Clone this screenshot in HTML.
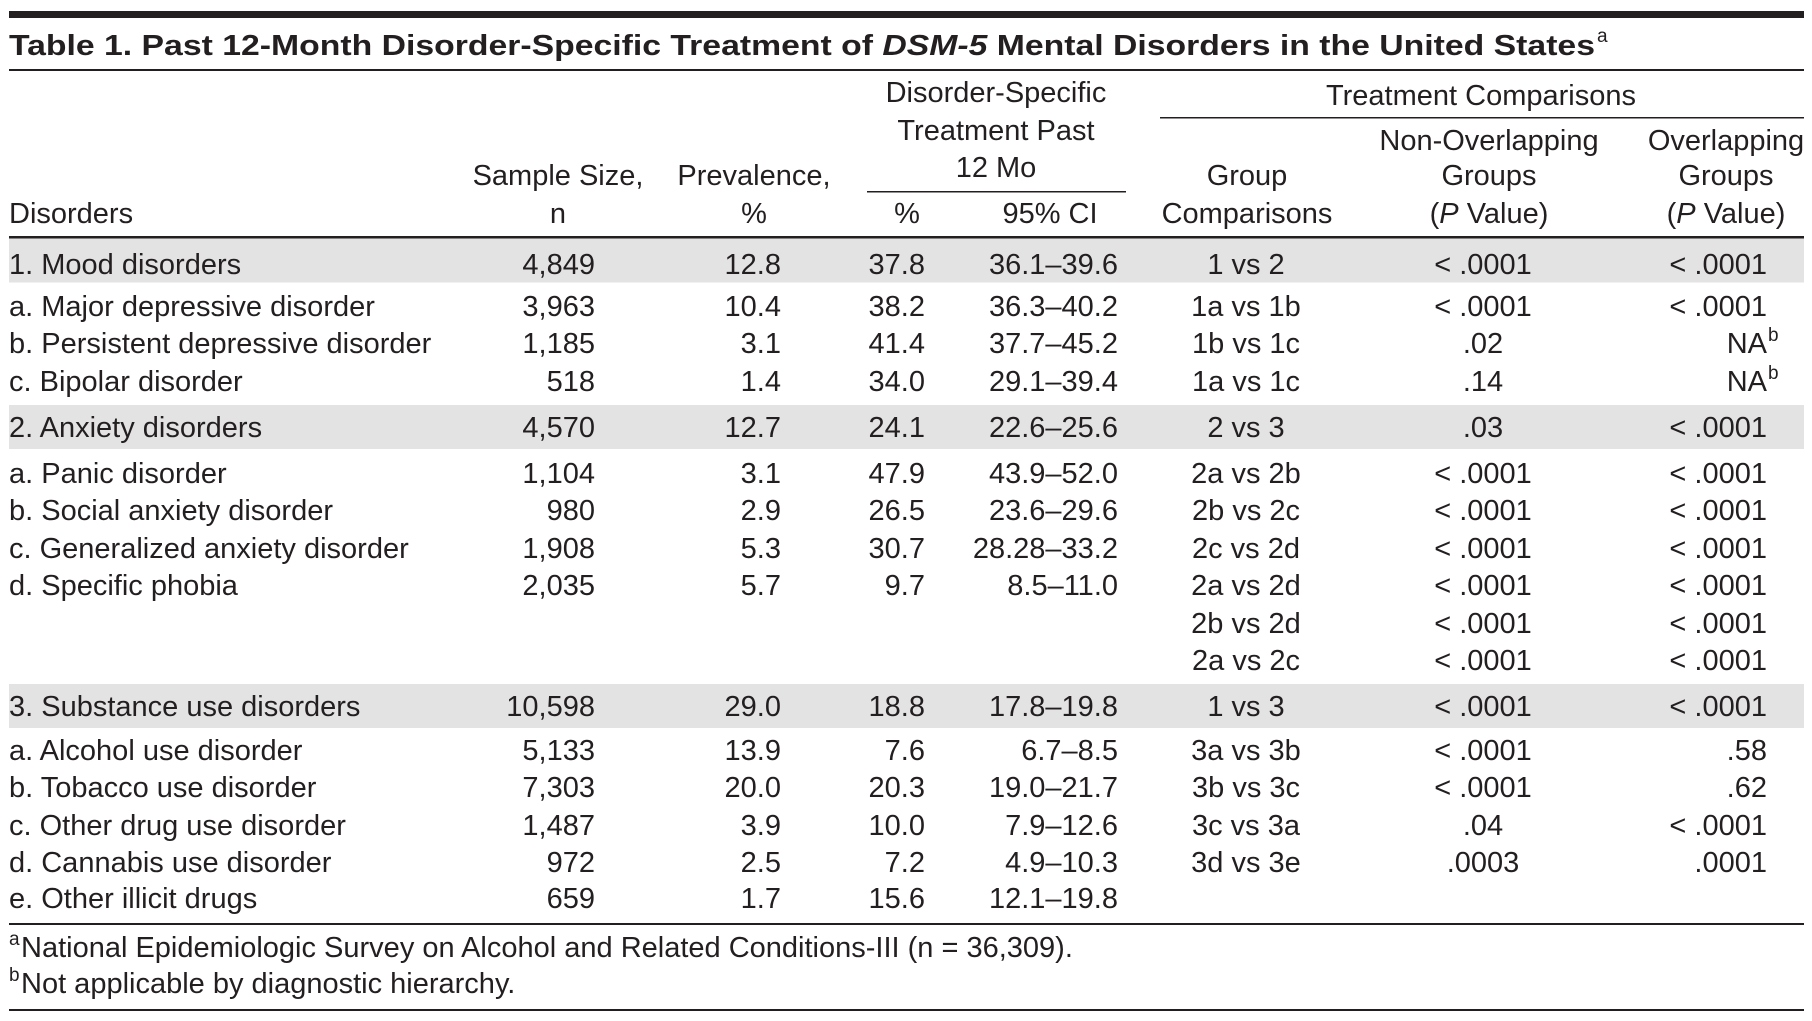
<!DOCTYPE html>
<html><head><meta charset="utf-8"><style>
html,body{margin:0;padding:0;background:#fff;}
svg{display:block;}
text{font-family:"Liberation Sans",sans-serif;font-size:29px;fill:#231f20;}
.e{text-anchor:end}.m{text-anchor:middle}
.sup{font-size:19px}
</style></head><body>
<svg width="1812" height="1021" viewBox="0 0 1812 1021">
<rect x="9" y="11" width="1795" height="7" fill="#231f20"/>
<text x="9" y="55" font-weight="bold" font-size="31" textLength="1586" lengthAdjust="spacingAndGlyphs">Table 1. Past 12-Month Disorder-Specific Treatment of <tspan font-style="italic">DSM-5</tspan> Mental Disorders in the United States</text>
<text x="1597" y="42" class="sup">a</text>
<rect x="9" y="69" width="1795" height="2" fill="#231f20"/>

<g>
<text x="9" y="223">Disorders</text>
<text x="558" y="185" class="m">Sample Size,</text><text x="558" y="223" class="m">n</text>
<text x="754" y="185" class="m">Prevalence,</text><text x="754" y="223" class="m">%</text>
<text x="996" y="102" class="m">Disorder-Specific</text>
<text x="996" y="140" class="m">Treatment Past</text>
<text x="996" y="177" class="m">12 Mo</text>
<rect x="867" y="191" width="259" height="1.5" fill="#231f20"/>
<text x="907" y="223" class="m">%</text><text x="1050" y="223" class="m">95% CI</text>
<text x="1481" y="105" class="m">Treatment Comparisons</text>
<rect x="1160" y="117" width="644" height="1.5" fill="#231f20"/>
<text x="1247" y="185" class="m">Group</text><text x="1247" y="223" class="m">Comparisons</text>
<text x="1489" y="150" class="m">Non-Overlapping</text><text x="1489" y="185" class="m">Groups</text>
<text x="1489" y="223" class="m">(<tspan font-style="italic">P</tspan> Value)</text>
<text x="1726" y="150" class="m">Overlapping</text><text x="1726" y="185" class="m">Groups</text>
<text x="1726" y="223" class="m">(<tspan font-style="italic">P</tspan> Value)</text>
</g>
<rect x="9" y="236" width="1795" height="2.5" fill="#231f20"/>

<rect x="9" y="238.5" width="1795" height="44" fill="#e3e3e3"/>
<rect x="9" y="405" width="1795" height="44" fill="#e3e3e3"/>
<rect x="9" y="684" width="1795" height="44" fill="#e3e3e3"/>

<g><text x="9" y="274">1. Mood disorders</text><text x="595" y="274" class="e">4,849</text><text x="781" y="274" class="e">12.8</text><text x="925" y="274" class="e">37.8</text><text x="1118" y="274" class="e">36.1–39.6</text><text x="1246" y="274" class="m">1 vs 2</text><text x="1483" y="274" class="m">&lt; .0001</text><text x="1767" y="274" class="e">&lt; .0001</text></g>
<g><text x="9" y="316">a. Major depressive disorder</text><text x="595" y="316" class="e">3,963</text><text x="781" y="316" class="e">10.4</text><text x="925" y="316" class="e">38.2</text><text x="1118" y="316" class="e">36.3–40.2</text><text x="1246" y="316" class="m">1a vs 1b</text><text x="1483" y="316" class="m">&lt; .0001</text><text x="1767" y="316" class="e">&lt; .0001</text></g>
<g><text x="9" y="353">b. Persistent depressive disorder</text><text x="595" y="353" class="e">1,185</text><text x="781" y="353" class="e">3.1</text><text x="925" y="353" class="e">41.4</text><text x="1118" y="353" class="e">37.7–45.2</text><text x="1246" y="353" class="m">1b vs 1c</text><text x="1483" y="353" class="m">.02</text><text x="1767" y="353" class="e">NA</text><text x="1768" y="341" class="sup">b</text></g>
<g><text x="9" y="391">c. Bipolar disorder</text><text x="595" y="391" class="e">518</text><text x="781" y="391" class="e">1.4</text><text x="925" y="391" class="e">34.0</text><text x="1118" y="391" class="e">29.1–39.4</text><text x="1246" y="391" class="m">1a vs 1c</text><text x="1483" y="391" class="m">.14</text><text x="1767" y="391" class="e">NA</text><text x="1768" y="379" class="sup">b</text></g>

<g><text x="9" y="437">2. Anxiety disorders</text><text x="595" y="437" class="e">4,570</text><text x="781" y="437" class="e">12.7</text><text x="925" y="437" class="e">24.1</text><text x="1118" y="437" class="e">22.6–25.6</text><text x="1246" y="437" class="m">2 vs 3</text><text x="1483" y="437" class="m">.03</text><text x="1767" y="437" class="e">&lt; .0001</text></g>
<g><text x="9" y="483">a. Panic disorder</text><text x="595" y="483" class="e">1,104</text><text x="781" y="483" class="e">3.1</text><text x="925" y="483" class="e">47.9</text><text x="1118" y="483" class="e">43.9–52.0</text><text x="1246" y="483" class="m">2a vs 2b</text><text x="1483" y="483" class="m">&lt; .0001</text><text x="1767" y="483" class="e">&lt; .0001</text></g>
<g><text x="9" y="520">b. Social anxiety disorder</text><text x="595" y="520" class="e">980</text><text x="781" y="520" class="e">2.9</text><text x="925" y="520" class="e">26.5</text><text x="1118" y="520" class="e">23.6–29.6</text><text x="1246" y="520" class="m">2b vs 2c</text><text x="1483" y="520" class="m">&lt; .0001</text><text x="1767" y="520" class="e">&lt; .0001</text></g>
<g><text x="9" y="558">c. Generalized anxiety disorder</text><text x="595" y="558" class="e">1,908</text><text x="781" y="558" class="e">5.3</text><text x="925" y="558" class="e">30.7</text><text x="1118" y="558" class="e">28.28–33.2</text><text x="1246" y="558" class="m">2c vs 2d</text><text x="1483" y="558" class="m">&lt; .0001</text><text x="1767" y="558" class="e">&lt; .0001</text></g>
<g><text x="9" y="595">d. Specific phobia</text><text x="595" y="595" class="e">2,035</text><text x="781" y="595" class="e">5.7</text><text x="925" y="595" class="e">9.7</text><text x="1118" y="595" class="e">8.5–11.0</text><text x="1246" y="595" class="m">2a vs 2d</text><text x="1483" y="595" class="m">&lt; .0001</text><text x="1767" y="595" class="e">&lt; .0001</text></g>
<g><text x="1246" y="633" class="m">2b vs 2d</text><text x="1483" y="633" class="m">&lt; .0001</text><text x="1767" y="633" class="e">&lt; .0001</text></g>
<g><text x="1246" y="670" class="m">2a vs 2c</text><text x="1483" y="670" class="m">&lt; .0001</text><text x="1767" y="670" class="e">&lt; .0001</text></g>

<g><text x="9" y="716">3. Substance use disorders</text><text x="595" y="716" class="e">10,598</text><text x="781" y="716" class="e">29.0</text><text x="925" y="716" class="e">18.8</text><text x="1118" y="716" class="e">17.8–19.8</text><text x="1246" y="716" class="m">1 vs 3</text><text x="1483" y="716" class="m">&lt; .0001</text><text x="1767" y="716" class="e">&lt; .0001</text></g>
<g><text x="9" y="760">a. Alcohol use disorder</text><text x="595" y="760" class="e">5,133</text><text x="781" y="760" class="e">13.9</text><text x="925" y="760" class="e">7.6</text><text x="1118" y="760" class="e">6.7–8.5</text><text x="1246" y="760" class="m">3a vs 3b</text><text x="1483" y="760" class="m">&lt; .0001</text><text x="1767" y="760" class="e">.58</text></g>
<g><text x="9" y="797">b. Tobacco use disorder</text><text x="595" y="797" class="e">7,303</text><text x="781" y="797" class="e">20.0</text><text x="925" y="797" class="e">20.3</text><text x="1118" y="797" class="e">19.0–21.7</text><text x="1246" y="797" class="m">3b vs 3c</text><text x="1483" y="797" class="m">&lt; .0001</text><text x="1767" y="797" class="e">.62</text></g>
<g><text x="9" y="835">c. Other drug use disorder</text><text x="595" y="835" class="e">1,487</text><text x="781" y="835" class="e">3.9</text><text x="925" y="835" class="e">10.0</text><text x="1118" y="835" class="e">7.9–12.6</text><text x="1246" y="835" class="m">3c vs 3a</text><text x="1483" y="835" class="m">.04</text><text x="1767" y="835" class="e">&lt; .0001</text></g>
<g><text x="9" y="872">d. Cannabis use disorder</text><text x="595" y="872" class="e">972</text><text x="781" y="872" class="e">2.5</text><text x="925" y="872" class="e">7.2</text><text x="1118" y="872" class="e">4.9–10.3</text><text x="1246" y="872" class="m">3d vs 3e</text><text x="1483" y="872" class="m">.0003</text><text x="1767" y="872" class="e">.0001</text></g>
<g><text x="9" y="908">e. Other illicit drugs</text><text x="595" y="908" class="e">659</text><text x="781" y="908" class="e">1.7</text><text x="925" y="908" class="e">15.6</text><text x="1118" y="908" class="e">12.1–19.8</text></g>

<rect x="9" y="923" width="1795" height="2" fill="#231f20"/>
<g>
<text x="9" y="945" class="sup">a</text><text x="21" y="957" font-size="28">National Epidemiologic Survey on Alcohol and Related Conditions-III (n = 36,309).</text>
<text x="9" y="981" class="sup">b</text><text x="21" y="993" font-size="28">Not applicable by diagnostic hierarchy.</text>
</g>
<rect x="9" y="1009" width="1795" height="2" fill="#231f20"/>
</svg>
</body></html>
